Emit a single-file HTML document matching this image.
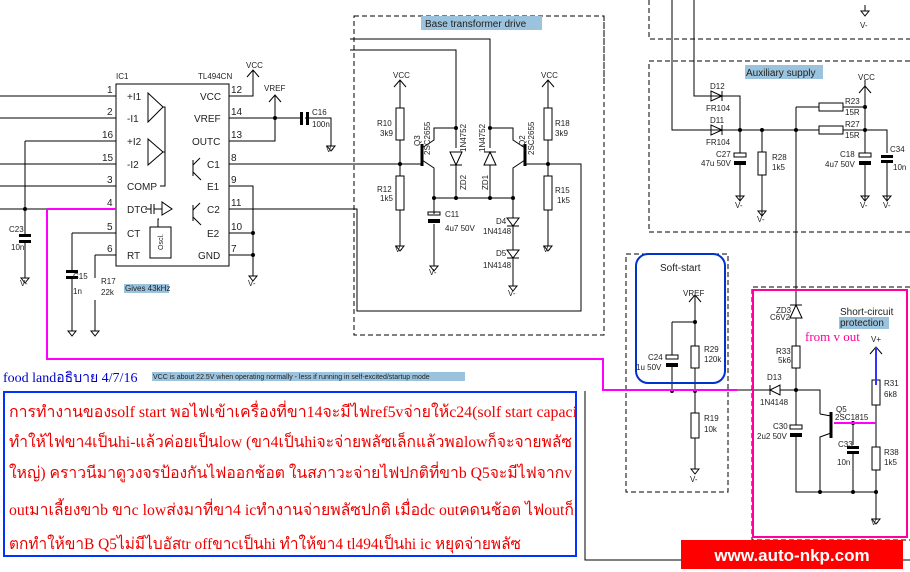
<!DOCTYPE html>
<html><head><meta charset="utf-8"><style>
body{margin:0;background:#fff;width:910px;height:572px;overflow:hidden}
svg{display:block}
text{font-family:"Liberation Sans",sans-serif;font-size:8px;fill:#222}
.p{font-size:10px}
.big{font-size:11px}
.th{font-family:"Liberation Serif","DejaVu Serif",serif;font-size:16px;fill:#e00}
</style></head><body>
<svg width="910" height="572" viewBox="0 0 910 572" xmlns="http://www.w3.org/2000/svg">
<defs>
<g id="gnd"><path d="M0,0V6M-4,6H4L0,11Z" fill="none" stroke="#000" stroke-width="1"/></g>
<g id="up"><path d="M-6,7L0,0L6,7M0,0V12" fill="none" stroke="#000" stroke-width="1"/></g>
</defs>
<g fill="none" stroke="#000" stroke-width="1">
<g stroke-dasharray="5,3">
<rect x="354" y="16" width="250" height="319"/>
<path d="M649,0V39H910"/>
<path d="M910,61H649V232H910"/>
<rect x="626" y="254" width="102" height="238"/>
<path d="M910,287H752V540H910"/>
<path d="M604,16V84"/>
</g>
<rect x="116" y="84" width="113" height="182"/>
<path d="M0,96H116M0,118H116M25,141H116M0,164H116M0,186H116M0,209H116M72,233H116M95,255H116"/>
<path d="M229,96H253V70M229,118H300M229,141H275V98M229,164H422M229,186H253V270M229,233H253M229,255H253M229,209H357V311H581V164H525"/>
<path d="M305,118H331V140"/>
<path d="M25,141V234M25,242V272"/>
<path d="M72,233V270M72,278V325"/>
<path d="M95,255V278M95,300V325"/>
<path d="M148,93V122L163,107ZM148,139V165L163,152Z"/>
<path d="M163,107H165V186H160M163,152H165"/>
<path d="M145,209H151M151,204V214M154,204V214M154,209H162M162,202V215L172,209Z"/>
<path d="M159,219H158V227M150,227H171V258H150Z"/>
<path d="M193,160V176M193,165L200,158M193,172L201,180M193,205V221M193,210L200,203M193,217L201,225"/>
<path d="M350,39H490V128M350,50H456V128"/>
<path d="M400,80V108M400,140V176M400,210V240M400,164H422"/>
<rect x="396" y="108" width="8" height="32"/><rect x="396" y="176" width="8" height="34"/>
<path d="M422,144V166" stroke-width="3"/>
<path d="M422,148L434,140V128H456M422,160L434,168V198M434,198H513M434,198V214M434,224V265"/>
<path d="M456,128V148M456,165V198M490,128V148M490,165V198"/>
<path d="M450,165H462M456,165L450,152H462Z M490,152L484,165H496Z M484,152H496"/>
<path d="M525,144V166" stroke-width="3"/>
<path d="M525,148L513,140V128H490M525,160L513,168V218M513,226V250M513,258V285"/>
<path d="M507,218H519L513,226ZM507,226H519M507,250H519L513,258ZM507,258H519"/>
<path d="M548,80V108M548,140V176M548,210V240M525,164H581"/>
<rect x="544" y="108" width="8" height="32"/><rect x="544" y="176" width="8" height="34"/>
<rect x="428" y="212" width="12" height="3"/>
<path d="M672,0V130H819M694,0V96H740V130M843,130H887V153M762,130V152M762,175V215M740,130V153M740,165V200M796,107H819M843,107H865M865,80V153M865,165V200M887,161V200M796,107V300"/>
<path d="M711,91V101L722,96ZM722,91V101M711,125V135L722,130ZM722,125V135"/>
<rect x="819" y="103" width="24" height="8"/><rect x="819" y="126" width="24" height="8"/>
<rect x="758" y="152" width="8" height="23"/>
<rect x="734" y="153" width="12" height="4"/><rect x="859" y="153" width="12" height="4"/>
<path d="M695,295V346M695,368V413M695,438V468M672,322H695M672,322V355M672,366V391"/>
<rect x="691" y="346" width="8" height="22"/><rect x="691" y="413" width="8" height="25"/>
<rect x="666" y="355" width="12" height="4"/>
<path d="M796,300V305M796,318V346M796,368V425M796,437V492H876M736,390H770M780,390H820V414M853,423V445M853,451V492M876,405V447M876,470V520M834,423H876"/>
<path d="M790,318H802L796,305Z M790,305H802"/>
<path d="M780,385V395L770,390Z M770,385V395"/>
<rect x="792" y="346" width="8" height="22"/><rect x="872" y="380" width="8" height="25"/><rect x="872" y="447" width="8" height="23"/>
<rect x="790" y="425" width="12" height="4"/>
<path d="M831,412V438" stroke-width="3"/>
<path d="M831,416L820,414M831,433L820,437V492"/>
<path d="M876,347V380"/>
<path d="M585,391V560H910"/>
</g>
<g fill="#000">
<rect x="19" y="234" width="12" height="3"/><rect x="19" y="240" width="12" height="3"/>
<rect x="66" y="270" width="12" height="3"/><rect x="66" y="276" width="12" height="3"/>
<rect x="300" y="112" width="3" height="13"/><rect x="306" y="112" width="3" height="13"/>
<rect x="428" y="219" width="12" height="4"/>
<rect x="734" y="161" width="12" height="4"/><rect x="859" y="161" width="12" height="4"/>
<rect x="881" y="155" width="12" height="3"/><rect x="881" y="160" width="12" height="3"/>
<rect x="666" y="363" width="12" height="4"/>
<rect x="790" y="433" width="12" height="4"/>
<rect x="847" y="446" width="12" height="3"/><rect x="847" y="451" width="12" height="3"/>
<circle cx="25" cy="209" r="2"/><circle cx="275" cy="118" r="2"/><circle cx="253" cy="233" r="2"/><circle cx="253" cy="255" r="2"/>
<circle cx="400" cy="164" r="2"/><circle cx="548" cy="164" r="2"/><circle cx="456" cy="128" r="2"/><circle cx="490" cy="128" r="2"/>
<circle cx="434" cy="198" r="2"/><circle cx="456" cy="198" r="2"/><circle cx="490" cy="198" r="2"/><circle cx="513" cy="198" r="2"/>
<circle cx="740" cy="130" r="2"/><circle cx="762" cy="130" r="2"/><circle cx="796" cy="130" r="2"/><circle cx="865" cy="107" r="2"/><circle cx="865" cy="130" r="2"/>
<circle cx="695" cy="322" r="2"/><circle cx="672" cy="391" r="2"/><circle cx="695" cy="391" r="2"/>
<circle cx="796" cy="390" r="2"/><circle cx="820" cy="492" r="2"/><circle cx="853" cy="492" r="2"/><circle cx="876" cy="492" r="2"/><circle cx="853" cy="423" r="2"/>
</g>
<g>
<use href="#gnd" x="25" y="272"/><use href="#gnd" x="72" y="325"/><use href="#gnd" x="95" y="325"/><use href="#gnd" x="253" y="270"/><use href="#gnd" x="331" y="140"/>
<use href="#gnd" x="400" y="240"/><use href="#gnd" x="434" y="260"/><use href="#gnd" x="513" y="280"/><use href="#gnd" x="548" y="240"/>
<use href="#gnd" x="865" y="5"/><use href="#gnd" x="740" y="190"/><use href="#gnd" x="762" y="205"/><use href="#gnd" x="865" y="190"/><use href="#gnd" x="887" y="190"/>
<use href="#gnd" x="695" y="463"/><use href="#gnd" x="876" y="513"/>
<use href="#up" x="253" y="70"/><use href="#up" x="275" y="95"/><use href="#up" x="400" y="80"/><use href="#up" x="548" y="80"/><use href="#up" x="865" y="86"/><use href="#up" x="695" y="295"/><use href="#up" x="876" y="347"/>
</g>
<g fill="none" stroke="#f0f" stroke-width="2">
<path d="M47,209H116M47,209V359H603V390H737"/>
<path d="M834,423H876"/>
</g>
<path d="M876,347V385" stroke="#33f" stroke-width="2"/>
<rect x="753" y="290" width="154" height="247" fill="none" stroke="#f09" stroke-width="2"/>
<rect x="636" y="254" width="89" height="129" rx="12" fill="none" stroke="#03c" stroke-width="2"/>
<g>
<rect x="421" y="16" width="121" height="14" fill="#9cc3dd"/><text x="425" y="27" class="p">Base transformer drive</text>
<rect x="745" y="65" width="78" height="14" fill="#9cc3dd"/><text x="746" y="76" class="p">Auxiliary supply</text>
<text x="660" y="271" class="p">Soft-start</text>
<text x="840" y="315" class="p">Short-circuit</text><rect x="839" y="317" width="50" height="12" fill="#9cc3dd"/><text x="840" y="326" class="p">protection</text>
<rect x="124" y="284" width="45" height="9" fill="#9cc3dd"/><text x="125" y="291">Gives 43kHz</text>
<text x="116" y="79">IC1</text><text x="198" y="79">TL494CN</text>
<text x="127" y="100" class="p">+I1</text><text x="127" y="122" class="p">-I1</text><text x="127" y="145" class="p">+I2</text><text x="127" y="168" class="p">-I2</text><text x="127" y="190" class="p">COMP</text><text x="127" y="213" class="p">DTC</text><text x="127" y="237" class="p">CT</text><text x="127" y="259" class="p">RT</text>
<text x="200" y="100" class="p">VCC</text><text x="194" y="122" class="p">VREF</text><text x="192" y="145" class="p">OUTC</text><text x="207" y="168" class="p">C1</text><text x="207" y="190" class="p">E1</text><text x="207" y="213" class="p">C2</text><text x="207" y="237" class="p">E2</text><text x="198" y="259" class="p">GND</text>
<text x="107" y="93" class="p">1</text><text x="107" y="115" class="p">2</text><text x="102" y="138" class="p">16</text><text x="102" y="161" class="p">15</text><text x="107" y="183" class="p">3</text><text x="107" y="206" class="p">4</text><text x="107" y="230" class="p">5</text><text x="107" y="252" class="p">6</text>
<text x="231" y="93" class="p">12</text><text x="231" y="115" class="p">14</text><text x="231" y="138" class="p">13</text><text x="231" y="161" class="p">8</text><text x="231" y="183" class="p">9</text><text x="231" y="206" class="p">11</text><text x="231" y="230" class="p">10</text><text x="231" y="252" class="p">7</text>
<text x="246" y="68">VCC</text><text x="264" y="91">VREF</text><text x="312" y="115">C16</text><text x="312" y="127">100n</text><text x="326" y="152">V-</text>
<text x="9" y="232">C23</text><text x="11" y="250">10n</text><text x="20" y="286">V-</text><text x="248" y="286">V-</text>
<text x="73" y="279">C15</text><text x="73" y="294">1n</text><text x="101" y="284">R17</text><text x="101" y="295">22k</text>
<text x="163" y="250" transform="rotate(-90 163 250)" style="font-size:7px">Oscl.</text>
<text x="377" y="126">R10</text><text x="380" y="136">3k9</text><text x="377" y="192">R12</text><text x="380" y="201">1k5</text>
<text x="393" y="78">VCC</text><text x="541" y="78">VCC</text><text x="395" y="252">V-</text><text x="429" y="275">V-</text><text x="508" y="296">V-</text><text x="543" y="252">V-</text>
<text x="445" y="217">C11</text><text x="445" y="231">4u7 50V</text>
<text x="496" y="224">D4</text><text x="483" y="234">1N4148</text><text x="496" y="256">D5</text><text x="483" y="268">1N4148</text>
<text x="555" y="126">R18</text><text x="555" y="136">3k9</text><text x="555" y="193">R15</text><text x="557" y="203">1k5</text>
<text x="420" y="146" transform="rotate(-90 420 146)">Q3</text><text x="430" y="155" transform="rotate(-90 430 155)">2SC2655</text>
<text x="525" y="146" transform="rotate(-90 525 146)">Q2</text><text x="534" y="155" transform="rotate(-90 534 155)">2SC2655</text>
<text x="466" y="152" transform="rotate(-90 466 152)">1N4752</text><text x="485" y="152" transform="rotate(-90 485 152)">1N4752</text>
<text x="466" y="190" transform="rotate(-90 466 190)">ZD2</text><text x="488" y="190" transform="rotate(-90 488 190)">ZD1</text>
<text x="710" y="89">D12</text><text x="706" y="111">FR104</text><text x="710" y="123">D11</text><text x="706" y="145">FR104</text>
<text x="716" y="157">C27</text><text x="701" y="166">47u 50V</text><text x="772" y="160">R28</text><text x="772" y="170">1k5</text>
<text x="845" y="104">R23</text><text x="845" y="115">15R</text><text x="845" y="127">R27</text><text x="845" y="138">15R</text>
<text x="840" y="157">C18</text><text x="825" y="167">4u7 50V</text><text x="890" y="152">C34</text><text x="893" y="170">10n</text>
<text x="858" y="80">VCC</text><text x="860" y="28">V-</text><text x="735" y="208">V-</text><text x="757" y="222">V-</text><text x="860" y="208">V-</text><text x="883" y="208">V-</text>
<text x="683" y="296">VREF</text><text x="648" y="360">C24</text><text x="636" y="370">1u 50V</text><text x="704" y="352">R29</text><text x="704" y="362">120k</text>
<text x="704" y="421">R19</text><text x="704" y="432">10k</text><text x="690" y="482">V-</text>
<text x="776" y="313">ZD3</text><text x="770" y="320">C6V2</text><text x="776" y="354">R33</text><text x="778" y="363">5k6</text>
<text x="767" y="380">D13</text><text x="760" y="405">1N4148</text><text x="836" y="412">Q5</text><text x="835" y="420">2SC1815</text>
<text x="773" y="429">C30</text><text x="757" y="439">2u2 50V</text><text x="838" y="447">C33</text><text x="837" y="465">10n</text>
<text x="884" y="386">R31</text><text x="884" y="397">6k8</text><text x="884" y="455">R38</text><text x="884" y="465">1k5</text><text x="871" y="525">V-</text>
<text x="805" y="341" style="font-family:'Liberation Serif',serif;font-size:13px;fill:#f09">from v out</text><text x="871" y="342" style="font-size:8px">V+</text>
<text x="3" y="382" style="font-family:'Liberation Serif',serif;font-size:14px;fill:#00c">food landอธิบาย 4/7/16</text>
<rect x="152" y="372" width="313" height="9" fill="#9cc3dd"/><text x="153" y="379" style="font-size:7px">VCC is about 22.5V when operating normally - less if running in self-excited/startup mode</text>
</g>
<rect x="4" y="392" width="572" height="164" fill="none" stroke="#03f" stroke-width="2"/>
<text class="th" x="9" y="417" textLength="568" lengthAdjust="spacingAndGlyphs">การทำงานของsolf start พอไฟเข้าเครื่องที่ขา14จะมีไฟref5vจ่ายให้c24(solf start capaci</text>
<text class="th" x="9" y="447" textLength="563" lengthAdjust="spacingAndGlyphs">ทำให้ไฟขา4เป็นhi-แล้วค่อยเป็นlow (ขา4เป็นhiจะจ่ายพลัซเล็กแล้วพอlowก็จะจายพลัซ</text>
<text class="th" x="9" y="478" textLength="563" lengthAdjust="spacingAndGlyphs">ใหญ่) คราวนีมาดูวงจรป้องกันไฟออกช้อต ในสภาวะจ่ายไฟปกติที่ขาb Q5จะมีไฟจากv</text>
<text class="th" x="9" y="515" textLength="565" lengthAdjust="spacingAndGlyphs">outมาเลี้ยงขาb ขาc lowส่งมาที่ขา4 icทำงานจ่ายพลัซปกติ เมื่อdc outคดนช้อต ไฟoutก็</text>
<text class="th" x="9" y="549" textLength="512" lengthAdjust="spacingAndGlyphs">ตกทำให้ขาB Q5ไม่มีไบอัสtr offขาcเป็นhi ทำให้ขา4 tl494เป็นhi ic หยุดจ่ายพลัซ</text>
<rect x="681" y="540" width="222" height="29" fill="#f00"/>
<text x="792" y="561" text-anchor="middle" style="font-size:17px;font-weight:bold;fill:#fff">www.auto-nkp.com</text>
</svg>
</body></html>
